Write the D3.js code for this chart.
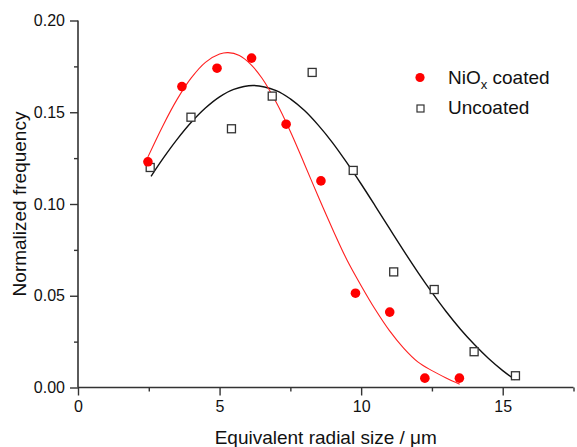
<!DOCTYPE html>
<html>
<head>
<meta charset="utf-8">
<script src="https://cdn.jsdelivr.net/npm/d3@7"></script>
<style>
  html, body { margin: 0; padding: 0; background: #fff; }
  svg { display: block; font-family: "Liberation Sans", Arial, sans-serif; }
</style>
</head>
<body>
<div id="chart"></div>
<script>
// measured points, NiOx coated (red dots)
const coatedX = [2.47, 3.67, 4.91, 6.13, 7.35, 8.58, 9.80, 11.01, 12.25, 13.47];
const coatedY = [0.123, 0.164, 0.174, 0.1795, 0.1435, 0.1126, 0.0514, 0.0411, 0.0051, 0.0051];

// measured points, uncoated (open squares)
const uncoatedX = [2.55, 3.99, 5.42, 6.86, 8.27, 9.72, 11.15, 12.58, 13.99, 15.45];
const uncoatedY = [0.1199, 0.1473, 0.141, 0.1588, 0.1717, 0.1183, 0.063, 0.0534, 0.0195, 0.0064];

// fitted curves
const coatedFitX = [2.45, 3.0, 3.5, 4.0, 4.5, 5.0, 5.3, 5.7, 6.1, 6.5, 7.0, 7.5, 8.0, 8.5, 9.0, 9.5, 10.0, 10.5, 11.0, 11.5, 12.0, 12.5, 13.0, 13.48];
const coatedFitY = [0.125, 0.1427, 0.157, 0.1687, 0.1772, 0.1817, 0.1825, 0.1809, 0.1761, 0.1685, 0.1554, 0.1395, 0.1217, 0.1035, 0.086, 0.0695, 0.0555, 0.0425, 0.031, 0.0215, 0.014, 0.0092, 0.0052, 0.0018];

const uncoatedFitX = [2.58, 3.0, 3.5, 4.0, 4.5, 5.0, 5.5, 6.2, 7.0, 7.5, 8.0, 8.5, 9.0, 9.5, 10.0, 10.5, 11.0, 11.5, 12.0, 12.5, 13.0, 13.5, 14.0, 14.5, 15.0, 15.43];
const uncoatedFitY = [0.1151, 0.1247, 0.1352, 0.1445, 0.1523, 0.1584, 0.1625, 0.1646, 0.1618, 0.1573, 0.1509, 0.1427, 0.1332, 0.1224, 0.1109, 0.0989, 0.0867, 0.0746, 0.0629, 0.0518, 0.0414, 0.0319, 0.0234, 0.0158, 0.0092, 0.0043];

const xMajor = [0, 5, 10, 15];
const xMinor = [2.5, 7.5, 12.5, 17.5];
const yMajor = [0, 0.05, 0.10, 0.15, 0.20];
const yMinor = [0.025, 0.075, 0.125, 0.175];

const width = 577, height = 447;
const zip = (xs, ys) => xs.map((x, i) => ({ x: x, y: ys[i] }));

const x = d3.scaleLinear().domain([0, 17.5]).range([78, 573.5]);
const y = d3.scaleLinear().domain([0, 0.2]).range([387.5, 20.5]);

const svg = d3.select("#chart").append("svg")
  .attr("width", width)
  .attr("height", height);

const axisColor = "#333";

// x axis
const gx = svg.append("g")
  .attr("transform", `translate(0,${y(0)})`)
  .call(d3.axisBottom(x).tickValues(xMajor).tickSize(8).tickPadding(5).tickFormat(d3.format("d")));
svg.append("g")
  .attr("transform", `translate(0,${y(0)})`)
  .call(d3.axisBottom(x).tickValues(xMinor).tickSize(4).tickFormat(""))
  .call(g => g.select(".domain").remove());

// y axis
const gy = svg.append("g")
  .attr("transform", `translate(${x(0)},0)`)
  .call(d3.axisLeft(y).tickValues(yMajor).tickSize(8).tickPadding(5).tickFormat(d3.format(".2f")));
svg.append("g")
  .attr("transform", `translate(${x(0)},0)`)
  .call(d3.axisLeft(y).tickValues(yMinor).tickSize(4).tickFormat(""))
  .call(g => g.select(".domain").remove());

svg.selectAll(".domain").attr("stroke", axisColor).attr("stroke-width", 1.6);
svg.selectAll(".tick line").attr("stroke", axisColor).attr("stroke-width", 1.4);
svg.selectAll(".tick text")
  .attr("fill", "#111")
  .style("font-size", "16px")
  .style("font-family", "Liberation Sans, Arial, sans-serif");
// d3 puts outer ticks at the domain ends; flatten them
gx.select(".domain").attr("d", `M${x(0)},0H${x(17.5)}`);
gy.select(".domain").attr("d", `M0,${y(0.2)}V${y(0)}`);

// axis titles
svg.append("text")
  .attr("x", (x(0) + x(17.5)) / 2)
  .attr("y", 444)
  .attr("text-anchor", "middle")
  .attr("fill", "#111")
  .style("font-size", "19px")
  .text("Equivalent radial size / μm");

svg.append("text")
  .attr("transform", `translate(26,${(y(0) + y(0.2)) / 2}) rotate(-90)`)
  .attr("text-anchor", "middle")
  .attr("fill", "#111")
  .style("font-size", "19px")
  .text("Normalized frequency");

// fit curves
const line = d3.line()
  .x(d => x(d.x))
  .y(d => y(d.y))
  .curve(d3.curveCatmullRom.alpha(0.5));

svg.append("path")
  .datum(zip(uncoatedFitX, uncoatedFitY))
  .attr("fill", "none")
  .attr("stroke", "#111")
  .attr("stroke-width", 1.4)
  .attr("d", line);

svg.append("path")
  .datum(zip(coatedFitX, coatedFitY))
  .attr("fill", "none")
  .attr("stroke", "#ff2020")
  .attr("stroke-width", 1.1)
  .attr("d", line);

// points
svg.append("g")
  .selectAll("rect")
  .data(zip(uncoatedX, uncoatedY))
  .join("rect")
  .attr("x", d => x(d.x) - 4)
  .attr("y", d => y(d.y) - 4)
  .attr("width", 8)
  .attr("height", 8)
  .attr("fill", "#fff")
  .attr("stroke", "#333")
  .attr("stroke-width", 1.3);

svg.append("g")
  .selectAll("circle")
  .data(zip(coatedX, coatedY))
  .join("circle")
  .attr("cx", d => x(d.x))
  .attr("cy", d => y(d.y))
  .attr("r", 4.8)
  .attr("fill", "#ff0000");

// legend
const legend = svg.append("g");
legend.append("circle")
  .attr("cx", 420).attr("cy", 77.5).attr("r", 4.6)
  .attr("fill", "#ff0000");
const t1 = legend.append("text")
  .attr("x", 448).attr("y", 84)
  .attr("fill", "#111")
  .style("font-size", "19px");
t1.append("tspan").text("NiO");
t1.append("tspan").attr("dy", 5).style("font-size", "13px").text("x");
t1.append("tspan").attr("dy", -5).text(" coated");

legend.append("rect")
  .attr("x", 417).attr("y", 105).attr("width", 7).attr("height", 7)
  .attr("fill", "#fff").attr("stroke", "#333").attr("stroke-width", 1.2);
legend.append("text")
  .attr("x", 448).attr("y", 114)
  .attr("fill", "#111")
  .style("font-size", "19px")
  .text("Uncoated");
</script>
</body>
</html>
